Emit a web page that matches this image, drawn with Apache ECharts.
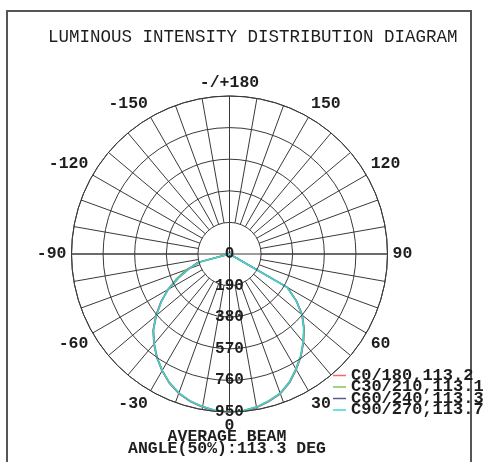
<!DOCTYPE html>
<html>
<head>
<meta charset="utf-8">
<title>Luminous Intensity Distribution Diagram</title>
<script src="https://cdn.jsdelivr.net/npm/echarts@6/dist/echarts.min.js"></script>
<style>
    html, body { margin: 0; padding: 0; background: #fff; }
    #chart { width: 491px; height: 462px; }
</style>
</head>
<body>
<div id="chart"></div>
<script>
    // gamma angle in degrees, 0 = straight down, negative = left half
    var angles = [-90, -85, -80, -75, -70, -65, -60, -55, -50, -45, -40, -35, -30, -25, -20, -15, -10, -5,
        0, 5, 10, 15, 20, 25, 30, 35, 40, 45, 50, 55, 60, 65, 70, 75, 80, 85, 90]

    // intensity (cd) per C-plane
    var c0 = [0, 0, 0, 200, 255, 335, 425, 505, 580, 650, 708, 762, 812, 857, 893, 918, 935, 948,
        955, 949, 938, 918, 895, 855, 803, 750, 693, 635, 572, 492, 402, 0, 0, 0, 0, 0, 0]
    var c30 = [0, 0, 0, 170, 280, 350, 430, 500, 572, 645, 702, 758, 808, 853, 888, 914, 931, 944,
        950, 944, 933, 913, 890, 849, 797, 745, 688, 630, 566, 487, 398, 0, 0, 0, 0, 0, 0]
    var c60 = [0, 0, 0, 195, 262, 338, 426, 502, 576, 648, 706, 760, 810, 855, 891, 916, 933, 946,
        953, 947, 936, 916, 893, 853, 801, 749, 691, 633, 571, 491, 401, 0, 0, 0, 0, 0, 0]
    var c90 = [0, 0, 0, 190, 260, 335, 425, 500, 575, 648, 705, 760, 810, 855, 890, 915, 932, 945,
        952, 946, 935, 915, 892, 852, 800, 748, 690, 632, 570, 490, 400, 0, 0, 0, 0, 0, 0]

    var seriesNames = ['C0/180,113.2', 'C30/210,113.1', 'C60/240,113.3', 'C90/270,113.7']
    var seriesValues = [c0, c30, c60, c90]
    var seriesColors = ['#f06a6a', '#82c45c', '#5c5c88', '#46d2d2']

    var radiusMax = 950
    var radiusStep = 190

    var FONT = '"Liberation Mono", "DejaVu Sans Mono", monospace'
    var INK = '#1e1e1e'
    var GRID = '#3a3a3a'
    var CENTER = [229.5, 254]
    var R = 158

    var chart = echarts.init(document.getElementById('chart'))

    var series = []
    for (var i = 0; i < seriesNames.length; i++) {
        var vals = seriesValues[i]
        series.push({
            name: seriesNames[i],
            type: 'line',
            coordinateSystem: 'polar',
            polarIndex: 0,
            symbol: 'none',
            z: 5,
            lineStyle: {color: seriesColors[i], width: 1.5},
            itemStyle: {color: seriesColors[i]},
            data: angles.map(function (a, k) {
                return [vals[k], (a + 360) % 360]
            })
        })
    }

    chart.setOption({
        animation: false,
        backgroundColor: '#fff',
        title: [
            {
                text: 'LUMINOUS INTENSITY DISTRIBUTION DIAGRAM',
                left: 48,
                top: 28,
                padding: 0,
                textStyle: {fontFamily: FONT, fontSize: 17.5, fontWeight: 'normal', color: INK}
            },
            {
                text: 'AVERAGE BEAM\nANGLE(50%):113.3 DEG',
                left: 227,
                top: 431,
                padding: 0,
                textAlign: 'center',
                textStyle: {fontFamily: FONT, fontSize: 16.5, fontWeight: 'bold', color: INK, lineHeight: 12}
            }
        ],
        legend: {
            orient: 'vertical',
            left: 333,
            top: 367,
            padding: 0,
            icon: 'rect',
            itemWidth: 13,
            itemHeight: 1.5,
            itemGap: -5.5,
            textStyle: {fontFamily: FONT, fontSize: 17, fontWeight: 'bold', color: INK, lineHeight: 11.5},
            data: seriesNames
        },
        graphic: [{
            type: 'rect',
            silent: true,
            shape: {x: 7, y: 11, width: 464, height: 470},
            style: {fill: null, stroke: '#555', lineWidth: 2}
        }],
        polar: [
            {center: CENTER, radius: R},
            {center: CENTER, radius: [R / 5, R]}
        ],
        angleAxis: [
            {
                // main cross through the centre + outer circle
                polarIndex: 0,
                type: 'value',
                min: 0,
                max: 360,
                interval: 90,
                startAngle: 270,
                clockwise: false,
                axisLine: {show: true, lineStyle: {color: GRID, width: 1}},
                axisTick: {show: false},
                axisLabel: {show: false},
                splitLine: {show: true, lineStyle: {color: GRID, width: 1}}
            },
            {
                // 10 degree spokes, starting at the first ring
                polarIndex: 1,
                type: 'value',
                min: -180,
                max: 180,
                interval: 10,
                startAngle: 90,
                clockwise: false,
                axisLine: {show: false},
                axisTick: {show: false},
                axisLabel: {
                    show: true,
                    margin: 5,
                    fontFamily: FONT,
                    fontSize: 16.5,
                    fontWeight: 'bold',
                    color: INK,
                    formatter: function (v) {
                        if (v % 30 !== 0 || v === 180) return ''
                        if (v === -180) return '-/+180'
                        return String(v)
                    }
                },
                splitLine: {show: true, lineStyle: {color: GRID, width: 1}}
            }
        ],
        radiusAxis: [
            {
                polarIndex: 0,
                type: 'value',
                min: 0,
                max: radiusMax,
                interval: radiusStep,
                axisLine: {show: false},
                axisTick: {show: false},
                axisLabel: {
                    show: true,
                    margin: 0,
                    align: 'center',
                    verticalAlign: 'middle',
                    fontFamily: FONT,
                    fontSize: 16,
                    fontWeight: 'bold',
                    color: INK
                },
                splitLine: {show: true, lineStyle: {color: GRID, width: 1}},
                z: 6
            },
            {
                polarIndex: 1,
                type: 'value',
                min: 0,
                max: 1,
                axisLine: {show: false},
                axisTick: {show: false},
                axisLabel: {show: false},
                splitLine: {show: false}
            }
        ],
        series: series
    })
</script>
</body>
</html>
